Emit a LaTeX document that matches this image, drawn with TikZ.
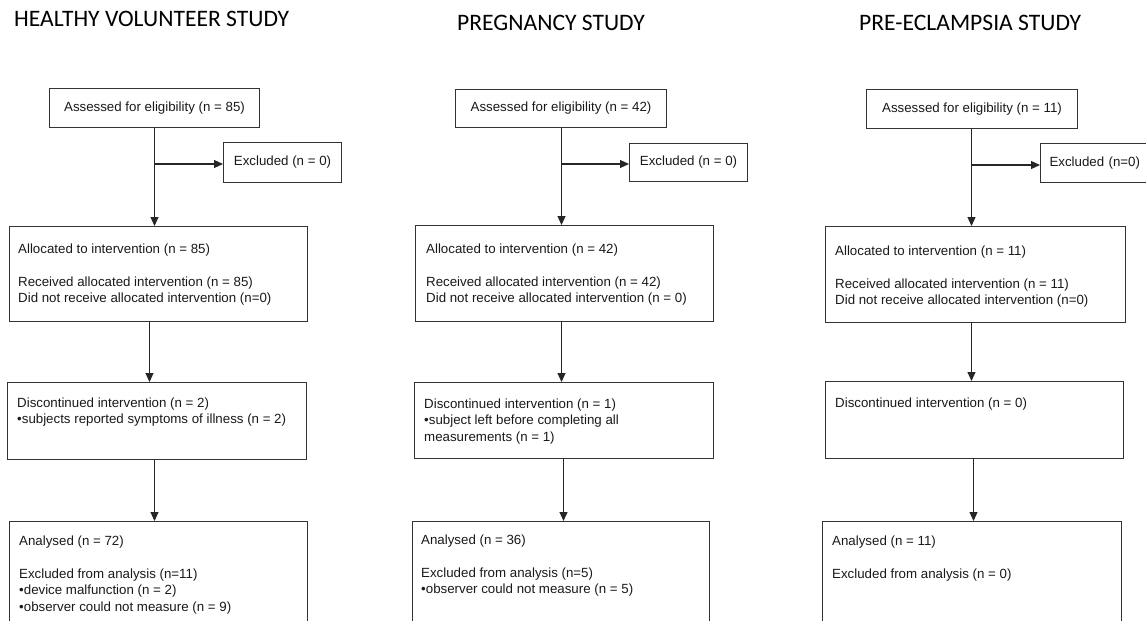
\documentclass[tikz,border=0pt]{standalone}
\usepackage{fontspec}
\usetikzlibrary{arrows.meta}
\newfontfamily\titlefam{Carlito}
\newfontfamily\boxfam{Liberation Sans}
\tikzset{
  box/.style={draw=black!80, line width=1pt, inner sep=0pt, anchor=north west,
              font=\boxfam\fontsize{13.3}{16.5}\selectfont, text=black!90},
  txt/.style={font=\boxfam\fontsize{13.3}{16.5}\selectfont, text=black!90, anchor=base west, inner sep=0pt},
  ttl/.style={font=\titlefam\fontsize{23.6}{26}\selectfont, anchor=base west, inner sep=0pt},
  conn/.style={draw=black!85, line width=1.1pt},
  arr/.style={conn, -{Triangle[length=9pt,width=8pt]}},
}
\begin{document}
\begin{tikzpicture}[x=1pt,y=-1pt]
\useasboundingbox (0,0) rectangle (1146,621);
\clip (0,0) rectangle (1146,621);

% ---------- titles ----------
\node[ttl] (T1) at (14,27) {HEALTHY VOLUNTEER STUDY};
\node[ttl] (T2) at (457,30) {PREGNANCY STUDY};
\node[ttl] (T3) at (859,30) {PRE-ECLAMPSIA STUDY};

% ---------- healthy volunteer ----------
\node[box, minimum width=210pt, minimum height=39pt] (A1) at (49,88) {Assessed for eligibility (n = 85)};
\node[box, minimum width=118pt, minimum height=40pt] (E1) at (223,142) {Excluded (n = 0)};
\node[box, minimum width=298pt, minimum height=95pt] (L1) at (9,226) {};
\node[box, minimum width=299pt, minimum height=77pt] (D1) at (7,382) {};
\node[box, minimum width=298pt, minimum height=140pt] (N1) at (9,521) {};
\node[txt] (L1t) at (18,253) {\vtop{\hbox{Allocated to intervention (n = 85)}\hbox{}\hbox{Received allocated intervention (n = 85)}\hbox{Did not receive allocated intervention (n=0)}}};
\node[txt] (D1t) at (17,407) {\vtop{\hbox{Discontinued intervention (n = 2)}\hbox{\textbullet subjects reported symptoms of illness (n = 2)}}};
\node[txt] (N1t) at (19,545) {\vtop{\hbox{Analysed (n = 72)}\hbox{}\hbox{Excluded from analysis (n=11)}\hbox{\textbullet device malfunction (n = 2)}\hbox{\textbullet observer could not measure (n = 9)}}};
\coordinate (B1) at (154,164);
\draw[arr] (A1.south) -- (A1.south |- L1.north);
\draw[arr] (B1) -- (B1 -| E1.west);
\draw[arr] ([xshift=-9pt]L1.south) -- ([xshift=-9pt]L1.south |- D1.north);
\draw[arr] ([xshift=-2.5pt]D1.south) -- ([xshift=-2.5pt]D1.south |- N1.north);

% ---------- pregnancy ----------
\node[box, minimum width=211pt, minimum height=38pt] (A2) at (455,89) {Assessed for eligibility (n = 42)};
\node[box, minimum width=118pt, minimum height=38pt] (E2) at (629,143) {Excluded (n = 0)};
\node[box, minimum width=298pt, minimum height=96pt] (L2) at (415,225) {};
\node[box, minimum width=299pt, minimum height=76pt] (D2) at (414,382) {};
\node[box, minimum width=297pt, minimum height=140pt] (N2) at (412,521) {};
\node[txt] (L2t) at (426,253) {\vtop{\hbox{Allocated to intervention (n = 42)}\hbox{}\hbox{Received allocated intervention (n = 42)}\hbox{Did not receive allocated intervention (n = 0)}}};
\node[txt] (D2t) at (424,408) {\vtop{\hbox{Discontinued intervention (n = 1)}\hbox{\textbullet subject left before completing all}\hbox{measurements (n = 1)}}};
\node[txt] (N2t) at (421,544) {\vtop{\hbox{Analysed (n = 36)}\hbox{}\hbox{Excluded from analysis (n=5)}\hbox{\textbullet observer could not measure (n = 5)}}};
\coordinate (B2) at (561,164);
\draw[arr] ([xshift=0.5pt]A2.south) -- ([xshift=0.5pt]A2.south |- L2.north);
\draw[arr] (B2) -- (B2 -| E2.west);
\draw[arr] ([xshift=-3pt]L2.south) -- ([xshift=-3pt]L2.south |- D2.north);
\draw[arr] ([xshift=-0.5pt]D2.south) -- ([xshift=-0.5pt]D2.south |- N2.north);

% ---------- pre-eclampsia ----------
\node[box, minimum width=211pt, minimum height=39pt] (A3) at (866,89) {Assessed for eligibility (n = 11)};
\node[box, minimum width=130pt, minimum height=39pt, text width=120pt, align=left] (E3) at (1040,143) {\hspace*{4pt}Excluded (n=0)};
\node[box, minimum width=300pt, minimum height=96pt] (L3) at (825,226) {};
\node[box, minimum width=298pt, minimum height=77pt] (D3) at (825,381) {};
\node[box, minimum width=299pt, minimum height=140pt] (N3) at (822,521) {};
\node[txt] (L3t) at (835,255) {\vtop{\hbox{Allocated to intervention (n = 11)}\hbox{}\hbox{Received allocated intervention (n = 11)}\hbox{Did not receive allocated intervention (n=0)}}};
\node[txt] (D3t) at (835,407) {Discontinued intervention (n = 0)};
\node[txt] (N3t) at (832,545) {\vtop{\hbox{Analysed (n = 11)}\hbox{}\hbox{Excluded from analysis (n = 0)}}};
\coordinate (B3) at (971,165);
\draw[arr] ([xshift=-0.5pt]A3.south) -- ([xshift=-0.5pt]A3.south |- L3.north);
\draw[arr] (B3) -- (B3 -| E3.west);
\draw[arr] ([xshift=-4pt]L3.south) -- ([xshift=-4pt]L3.south |- D3.north);
\draw[arr] ([xshift=-1pt]D3.south) -- ([xshift=-1pt]D3.south |- N3.north);
\end{tikzpicture}
\end{document}
